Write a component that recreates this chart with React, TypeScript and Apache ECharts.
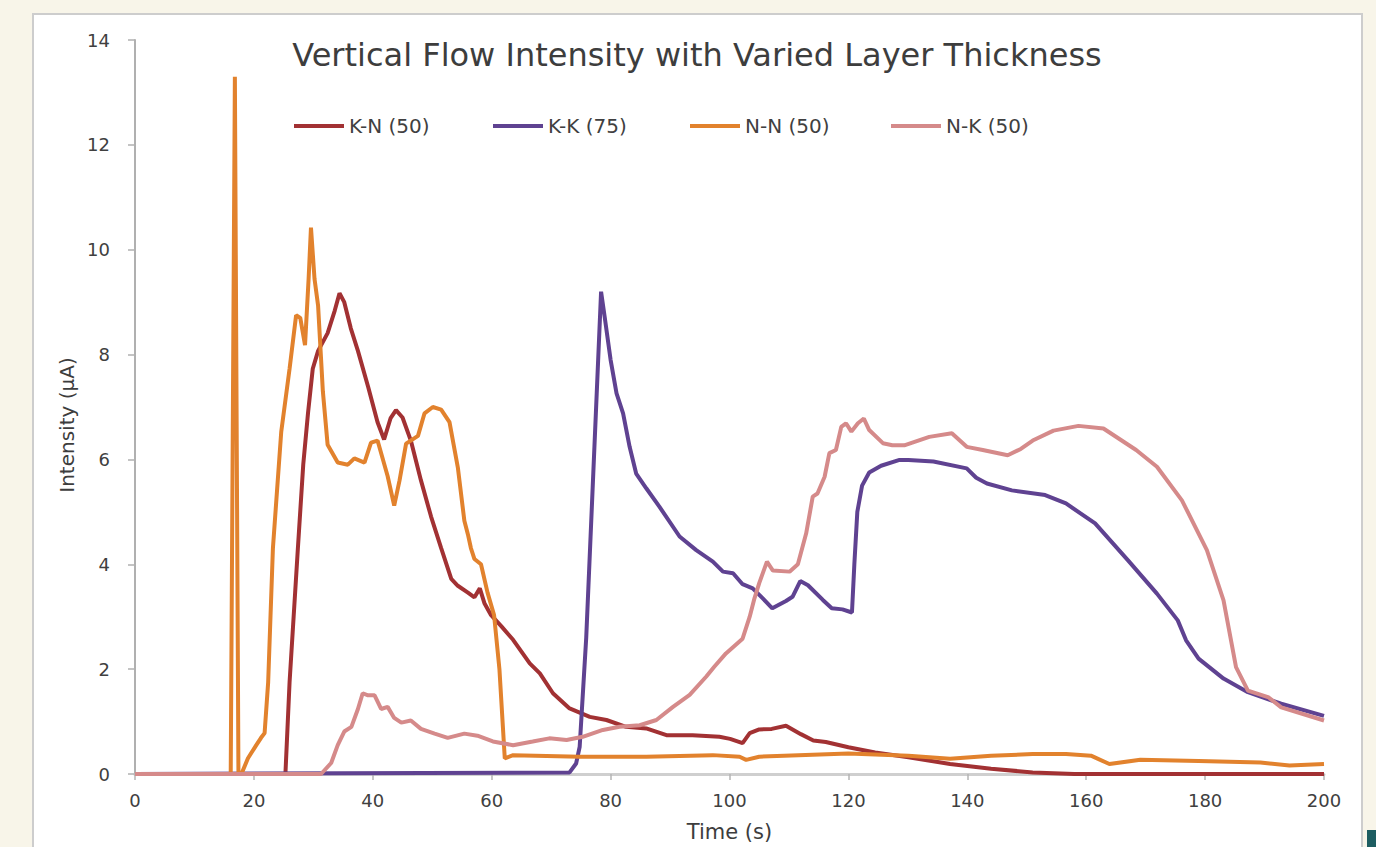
import React, { useEffect, useRef } from "react";
import * as echarts from "echarts";

const chartTitle = "Vertical Flow Intensity with Varied Layer Thickness";
const xAxisName = "Time (s)";
const yAxisName = "Intensity (µA)";
const seriesNames = ["K-N (50)", "K-K (75)", "N-N (50)", "N-K (50)"];
const seriesColors = ["#a23133", "#5f4291", "#e2822d", "#d58a8a"];

// [time (s), intensity (µA)]
const kn: number[][] = [
  [0, 0], [25.3, 0], [26.0, 1.75], [27.4, 4.31], [28.3, 5.9], [29.1, 6.88], [29.9, 7.73],
  [30.8, 8.07], [32.4, 8.41], [33.6, 8.84], [34.4, 9.17], [35.2, 9.0], [36.3, 8.5],
  [37.5, 8.07], [39.2, 7.39], [40.8, 6.71], [41.9, 6.38], [43.0, 6.79], [43.9, 6.94],
  [45.0, 6.8], [46.4, 6.36], [48.1, 5.6], [49.8, 4.91], [51.5, 4.31], [53.2, 3.72],
  [54.3, 3.59], [56.0, 3.46], [57.1, 3.37], [58.0, 3.54], [58.8, 3.25], [59.9, 3.03],
  [61.6, 2.82], [63.6, 2.56], [66.4, 2.11], [68.1, 1.92], [70.3, 1.54], [73.1, 1.25],
  [76.5, 1.09], [79.3, 1.03], [82.6, 0.9], [86.0, 0.87], [89.4, 0.74], [93.8, 0.74],
  [98.3, 0.71], [100.1, 0.67], [102.2, 0.59], [103.4, 0.78], [105.0, 0.85], [107.1, 0.86],
  [109.5, 0.92], [112.0, 0.76], [114.1, 0.64], [116.2, 0.61], [120.0, 0.51], [124.5, 0.41],
  [130.1, 0.32], [137.1, 0.19], [144.0, 0.1], [151.0, 0.03], [158.0, 0], [200, 0],
];

const kk: number[][] = [
  [0, 0], [73.1, 0.03], [74.2, 0.2], [74.8, 0.52], [75.9, 2.6], [78.4, 9.2], [79.0, 8.72],
  [80.0, 7.9], [81.0, 7.26], [82.1, 6.88], [83.2, 6.24], [84.3, 5.73], [86.0, 5.45],
  [88.2, 5.1], [91.6, 4.53], [94.4, 4.27], [97.2, 4.05], [98.9, 3.86], [100.6, 3.83],
  [102.2, 3.62], [103.9, 3.54], [105.6, 3.35], [107.2, 3.16], [109.5, 3.3], [110.6, 3.38],
  [111.9, 3.68], [113.2, 3.6], [115.7, 3.32], [117.2, 3.16], [119.0, 3.14], [120.6, 3.08],
  [121.0, 4.0], [121.5, 5.0], [122.3, 5.5], [123.5, 5.75], [125.5, 5.88], [128.6, 5.99],
  [130.1, 5.99], [134.3, 5.96], [139.9, 5.83], [141.5, 5.65], [143.3, 5.54], [147.5, 5.41],
  [153.1, 5.32], [156.6, 5.16], [161.5, 4.78], [167.0, 4.08], [171.9, 3.44], [175.4, 2.93],
  [176.8, 2.55], [178.9, 2.2], [183.1, 1.82], [187.2, 1.56], [192.8, 1.34], [200, 1.11],
];

const nn: number[][] = [
  [0, 0], [16.1, 0], [16.8, 13.3], [17.4, 0], [17.9, 0], [19.0, 0.3], [20.4, 0.55],
  [21.2, 0.69], [21.8, 0.78], [22.4, 1.75], [23.2, 4.31], [24.6, 6.53], [26.0, 7.73],
  [27.1, 8.75], [27.8, 8.7], [28.6, 8.18], [29.2, 9.44], [29.6, 10.42], [30.2, 9.44],
  [30.8, 8.93], [31.6, 7.3], [32.4, 6.28], [34.1, 5.94], [35.8, 5.9], [36.9, 6.02],
  [38.6, 5.94], [39.7, 6.32], [40.8, 6.36], [42.5, 5.68], [43.6, 5.12], [44.5, 5.6],
  [45.6, 6.3], [47.6, 6.45], [48.7, 6.88], [50.1, 7.0], [51.5, 6.95], [52.9, 6.71],
  [54.3, 5.85], [55.4, 4.83], [56.0, 4.57], [56.5, 4.31], [57.1, 4.1], [58.2, 4.0],
  [59.3, 3.46], [60.4, 3.03], [61.3, 2.0], [62.2, 0.3], [63.6, 0.36], [74.8, 0.33],
  [86.0, 0.33], [97.2, 0.36], [101.7, 0.33], [102.8, 0.27], [105.0, 0.33], [109.2, 0.35],
  [120.0, 0.39], [130.1, 0.35], [137.1, 0.29], [144.0, 0.35], [151.0, 0.38], [156.6, 0.38],
  [160.8, 0.35], [163.9, 0.19], [169.1, 0.27], [178.9, 0.25], [189.3, 0.22], [194.2, 0.16],
  [200, 0.19],
];

const nk: number[][] = [
  [0, 0], [31.3, 0], [33.0, 0.21], [34.1, 0.55], [35.2, 0.81], [36.4, 0.9], [37.5, 1.24],
  [38.3, 1.54], [39.2, 1.5], [40.3, 1.5], [41.4, 1.24], [42.5, 1.28], [43.6, 1.07],
  [44.8, 0.98], [46.4, 1.02], [48.1, 0.86], [50.4, 0.77], [52.6, 0.69], [55.4, 0.77],
  [57.6, 0.73], [60.2, 0.62], [63.6, 0.55], [66.9, 0.62], [69.7, 0.68], [72.6, 0.65],
  [75.3, 0.71], [78.7, 0.84], [81.5, 0.9], [84.9, 0.93], [87.7, 1.03], [90.5, 1.28],
  [93.3, 1.51], [96.1, 1.86], [97.4, 2.04], [99.4, 2.3], [102.2, 2.58], [103.4, 3.0],
  [104.2, 3.35], [105.0, 3.64], [106.3, 4.05], [107.3, 3.88], [110.1, 3.86], [111.5, 4.0],
  [112.9, 4.59], [114.0, 5.29], [114.8, 5.35], [116.0, 5.67], [116.8, 6.12], [117.9, 6.18],
  [118.8, 6.62], [119.6, 6.69], [120.5, 6.53], [121.6, 6.69], [122.6, 6.78], [123.5, 6.56],
  [125.8, 6.31], [127.4, 6.27], [129.4, 6.27], [133.6, 6.43], [137.4, 6.5], [139.9, 6.24],
  [142.6, 6.18], [146.8, 6.08], [149.0, 6.2], [151.0, 6.36], [154.5, 6.55], [158.7, 6.64],
  [162.9, 6.59], [168.4, 6.18], [171.9, 5.86], [176.1, 5.22], [180.3, 4.27], [183.1, 3.31],
  [185.2, 2.04], [187.2, 1.59], [190.7, 1.46], [192.8, 1.27], [200, 1.02],
];

const seriesData = [kn, kk, nn, nk];
const legendLefts = [294, 493, 690, 891];

const FONT = "'DejaVu Sans', 'Liberation Sans', sans-serif";

export default function App() {
  const ref = useRef<HTMLDivElement>(null);

  useEffect(() => {
    document.body.style.margin = "0";
    document.body.style.background = "#f8f5e9";
    if (!ref.current) return;
    const chart = echarts.init(ref.current, null, { renderer: "svg" });
    chart.setOption({
      animation: false,
      backgroundColor: "#f8f5e9",
      title: {
        text: chartTitle,
        left: 697,
        top: 39,
        textAlign: "center",
        padding: 0,
        textStyle: { fontFamily: FONT, fontSize: 32, fontWeight: "normal", color: "#3d3d3d" },
      },
      legend: seriesNames.map((name, i) => ({
        data: [name],
        left: legendLefts[i],
        top: 116,
        padding: 0,
        icon: "rect",
        itemWidth: 50,
        itemHeight: 4,
        textStyle: { fontFamily: FONT, fontSize: 20, color: "#404040" },
      })),
      graphic: [
        {
          type: "rect",
          z: -10,
          shape: { x: 33, y: 14, width: 1329, height: 850 },
          style: { fill: "#ffffff", stroke: "#cdcdcd", lineWidth: 2 },
        },
        {
          type: "rect",
          z: -10,
          shape: { x: 1367, y: 830, width: 9, height: 17 },
          style: { fill: "#1d5d61" },
        },
        {
          type: "text",
          x: 67,
          y: 425,
          rotation: Math.PI / 2,
          style: {
            text: yAxisName,
            fontFamily: FONT,
            fontSize: 20,
            fill: "#3d3d3d",
            align: "center",
            verticalAlign: "middle",
          },
        },
      ],
      grid: { left: 135, right: 52, top: 40, bottom: 73, containLabel: false },
      xAxis: {
        type: "value",
        min: 0,
        max: 200,
        interval: 20,
        name: xAxisName,
        nameLocation: "middle",
        nameGap: 47,
        nameTextStyle: { fontFamily: FONT, fontSize: 21, color: "#3d3d3d" },
        splitLine: { show: false },
        axisLine: { lineStyle: { color: "#cfcfcf", width: 3 } },
        axisTick: { show: true, inside: false, length: 6, lineStyle: { color: "#b5b5b5", width: 1.5 } },
        axisLabel: { margin: 17, fontFamily: FONT, fontSize: 18, color: "#404040" },
      },
      yAxis: {
        type: "value",
        min: 0,
        max: 14,
        interval: 2,
        splitLine: { show: false },
        axisLine: { show: true, lineStyle: { color: "#b0b0b0", width: 2 } },
        axisTick: { show: true, inside: false, length: 7, lineStyle: { color: "#b0b0b0", width: 1.5 } },
        axisLabel: { margin: 25, fontFamily: FONT, fontSize: 18, color: "#404040" },
      },
      series: seriesNames.map((name, i) => ({
        name,
        type: "line",
        data: seriesData[i],
        showSymbol: false,
        symbol: "none",
        color: seriesColors[i],
        lineStyle: { color: seriesColors[i], width: 4 },
        emphasis: { disabled: true },
      })),
    });
    return () => chart.dispose();
  }, []);

  return <div ref={ref} style={{ width: 1376, height: 847 }} />;
}
